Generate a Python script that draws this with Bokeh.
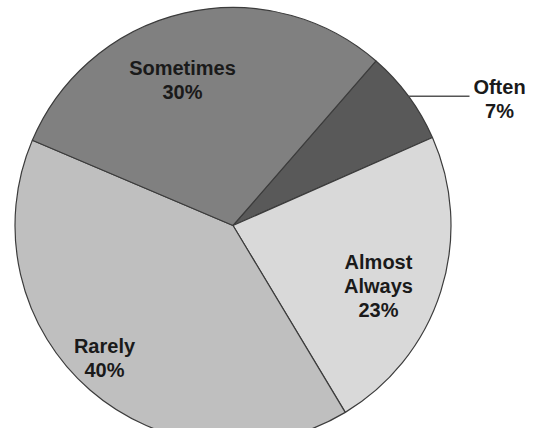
import math
from bokeh.plotting import figure
from bokeh.models import Range1d, ColumnDataSource
from bokeh.core.properties import value
from bokeh.embed import file_html
from bokeh.resources import INLINE

# ---- data ----
categories = ["Often", "Almost Always", "Rarely", "Sometimes"]
label_lines = [["Often"], ["Almost", "Always"], ["Rarely"], ["Sometimes"]]
percents = [7, 23, 40, 30]
colors = ["#595959", "#d9d9d9", "#bfbfbf", "#808080"]

# ---- layout (picture pixel coordinates, origin top-left) ----
W, H = 528, 428
REF_H = 444
cx, cy_px, R = 232.5, 225.0, 218.0
start_deg = 49.0
label_first_line = {  # centre of first line of each label, px
    "Often": (499, 86),
    "Almost Always": (378, 261),
    "Rarely": (104, 345),
    "Sometimes": (182, 67),
}
line_gap = 24
leader_end_x = 469

def py(y_px):
    return REF_H - y_px

cy = py(cy_px)

p = figure(width=W, height=H, output_backend="svg", toolbar_location=None,
           x_range=Range1d(0, W), y_range=Range1d(REF_H - H, REF_H),
           min_border=0)
p.axis.visible = False
p.grid.visible = False
p.outline_line_color = None
p.background_fill_color = "white"
p.border_fill_color = "white"

total = float(sum(percents))
starts, ends, mids = [], [], []
cum = 0.0
for v in percents:
    s = math.radians(start_deg - cum / total * 360.0)
    e = math.radians(start_deg - (cum + v) / total * 360.0)
    starts.append(s)
    ends.append(e)
    mids.append((s + e) / 2)
    cum += v

src = ColumnDataSource(dict(start=starts, end=ends, color=colors, cat=categories))
p.wedge(x=cx, y=cy, radius=R, start_angle="start", end_angle="end",
        direction="clock", fill_color="color", line_color="#3c3c3c",
        line_width=1.2, source=src)

# leader line for the small slice (Often)
i = categories.index("Often")
lx = cx + R * math.cos(mids[i])
ly = cy + R * math.sin(mids[i])
p.line(x=[lx, leader_end_x], y=[ly, ly], line_color="#555555", line_width=1.5)

# labels
tx, ty, tt = [], [], []
for cat, lines, v in zip(categories, label_lines, percents):
    x0, y0 = label_first_line[cat]
    for k, t in enumerate(lines + [f"{v}%"]):
        tx.append(x0)
        ty.append(py(y0 + k * line_gap))
        tt.append(t)

p.text(x=tx, y=ty, text=tt, text_align="center", text_baseline="middle",
       text_font=value("Liberation Sans"), text_font_style="bold",
       text_font_size="20px", text_color="#1a1a1a")

open("out.html", "w").write(file_html(p, INLINE))
